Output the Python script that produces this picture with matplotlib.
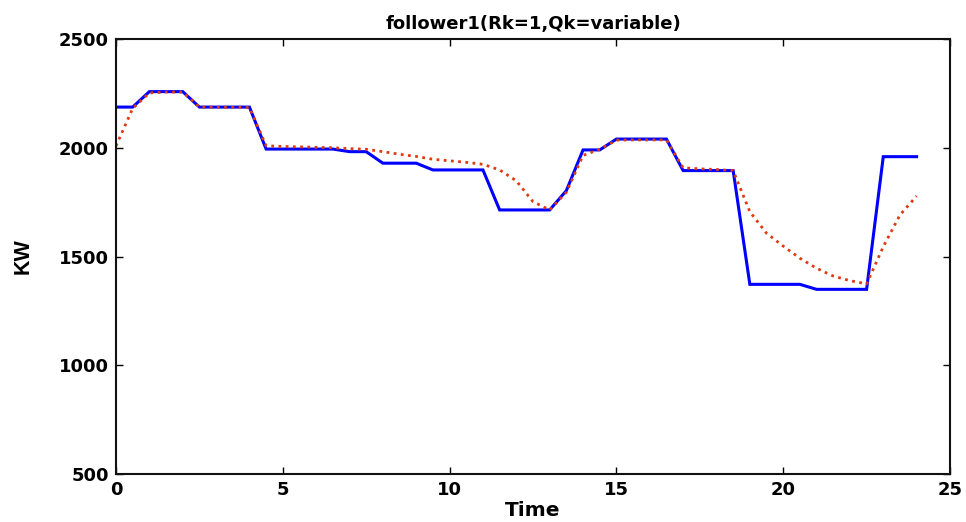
import numpy as np
import matplotlib
matplotlib.use("Agg")
import matplotlib.pyplot as plt

plt.rcParams['font.family'] = ['DejaVu Sans']

time = [i * 0.5 for i in range(49)]
actual = [2187, 2187, 2258, 2258, 2258, 2187, 2187, 2187, 2187, 1994,
          1994, 1994, 1994, 1994, 1982, 1982, 1929, 1929, 1929, 1898,
          1898, 1898, 1898, 1714, 1714, 1714, 1714, 1803, 1990, 1990,
          2040, 2040, 2040, 2040, 1895, 1895, 1895, 1895, 1372, 1372,
          1372, 1372, 1349, 1349, 1349, 1349, 1959, 1959, 1959]
tracked = [2008, 2181, 2252, 2256, 2256, 2187, 2186, 2186, 2185, 2009,
           2006, 2004, 2002, 2000, 1996, 1993, 1982, 1970, 1960, 1947,
           1940, 1933, 1924, 1898, 1848, 1752, 1714, 1795, 1965, 1993,
           2035, 2036, 2036, 2036, 1908, 1903, 1900, 1895, 1706, 1607,
           1548, 1492, 1446, 1410, 1389, 1374, 1545, 1691, 1778]

xticks = [0, 5, 10, 15, 20, 25]
yticks = [500, 1000, 1500, 2000, 2500]

fig = plt.figure(figsize=(9.66, 5.22), dpi=100)
ax = fig.add_axes([116/966, 48/522, (950-116)/966, (474-39)/522])

ax.plot(time, actual, color='#0000ff', linewidth=2.2, solid_joinstyle='miter')
ax.plot(time, tracked, color='#e03a10', linewidth=2.0, linestyle=(0, (1, 1.6)))

ax.set_xlim(0, 25)
ax.set_ylim(500, 2500)
ax.set_xticks(xticks)
ax.set_yticks(yticks)
ax.set_xticklabels([str(v) for v in xticks], fontsize=13, fontweight='bold')
ax.set_yticklabels([str(v) for v in yticks], fontsize=13, fontweight='bold')
ax.tick_params(axis='y', direction='in', right=True, length=5, width=1, pad=5)
ax.tick_params(axis='x', direction='in', top=True, length=5, width=1, pad=5)
for s in ax.spines.values():
    s.set_linewidth(1.5)
    s.set_color('#111111')

ax.set_title('follower1(Rk=1,Qk=variable)', fontsize=13, fontweight='bold', pad=7)
ax.set_xlabel('Time', fontsize=14.5, fontweight='bold')
ax.xaxis.set_label_coords(0.5, -0.062)
ax.set_ylabel('KW', fontsize=15.5, fontweight='bold', family='Liberation Sans')
ax.yaxis.set_label_coords(-0.1115, 0.5)
ax.yaxis.label.set_va('center')

fig.savefig('out.png', dpi=100)
